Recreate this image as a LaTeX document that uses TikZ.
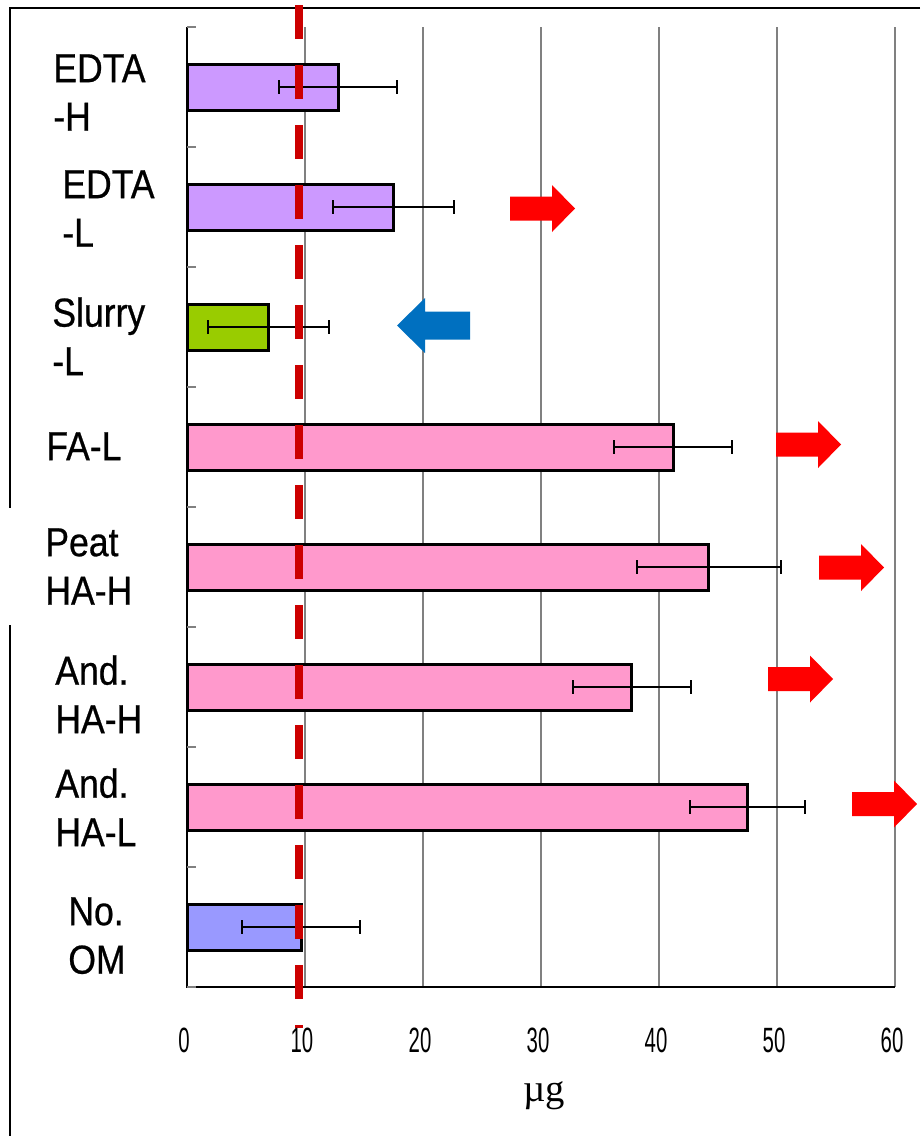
\documentclass[tikz,border=0pt]{standalone}
\usepackage{fontspec}
\setmainfont{Liberation Sans}
\newfontfamily\labfont[FakeStretch=0.88,FakeBold=0.6]{Liberation Sans}
\newfontfamily\tickfont[FakeStretch=0.58]{Liberation Sans}
\newfontfamily\unitfont{Liberation Serif}
\definecolor{edta}{HTML}{CC99FF}
\definecolor{slurry}{HTML}{99CC00}
\definecolor{ha}{HTML}{FF99CC}
\definecolor{om}{HTML}{9999FF}
\definecolor{limit}{HTML}{CC0000}
\definecolor{uparr}{HTML}{FF0000}
\definecolor{downarr}{HTML}{0070C0}
\tikzset{
  lab/.style={anchor=north west,align=left,inner sep=0pt,font=\labfont\fontsize{23}{27.6}\selectfont},
  ticklab/.style={inner sep=0pt,font=\tickfont\fontsize{20}{22}\selectfont},
}
\begin{document}
\begin{tikzpicture}[>=stealth,x=0.02cm,y=-0.02cm]
  \useasboundingbox (0,0) rectangle (920,1136);
  % khung ngoai
  \draw[line width=0.03cm] (920,8) -- (10,8) -- (10,508);
  \draw[line width=0.03cm] (10,625) -- (10,1136);
  % luoi doc va truc
  \foreach \k in {1,...,6}
    \draw[gray,line width=0.025cm] ({187+118*\k},27) -- ({187+118*\k},987);
  \draw[line width=0.025cm] (187,27) -- (187,987) -- (895,987);
  \foreach \k in {0,...,8}
    \draw[gray,line width=0.025cm] (187,{27+120*\k}) -- (196,{27+120*\k});
  % cot va sai so
  \foreach \c/\v/\e/\col in {87/12.8/5/edta,207/17.5/5.1/edta,327/6.9/5.1/slurry,447/41.2/5/ha,
                              567/44.2/6.1/ha,687/37.7/5/ha,807/47.5/4.9/ha,927/9.7/5/om}{
    \filldraw[fill=\col,line width=0.06cm] (187,{\c-23}) rectangle ({187+11.8*\v},{\c+23});
    \draw[line width=0.04cm] ({187+11.8*(\v-\e)},\c) -- ({187+11.8*(\v+\e)},\c)
      ({187+11.8*(\v-\e)},{\c-7}) -- ({187+11.8*(\v-\e)},{\c+7})
      ({187+11.8*(\v+\e)},{\c-7}) -- ({187+11.8*(\v+\e)},{\c+7});
  }
  % nguong 10
  \draw[limit,line width=0.16cm,dash pattern=on 0.68cm off 0.52cm] (299,5) -- (299,1028);
  % mui ten
  \foreach \x/\y in {510/208.5,776/444.5,819/567.5,768/679,852/804}
    \fill[uparr] (\x,{\y-12}) -- ({\x+42},{\y-12}) -- ({\x+42},{\y-23.5}) -- ({\x+65},\y)
      -- ({\x+42},{\y+23.5}) -- ({\x+42},{\y+12}) -- (\x,{\y+12}) -- cycle;
  \fill[downarr] (397,325.5) -- (425,298) -- (425,311.5) -- (470,311.5) -- (470,339.5)
    -- (425,339.5) -- (425,353) -- cycle;
  % nhan
  \node[lab] (edtah) at (53,54) {EDTA\\-H};
  \node[lab] (edtal) at (62,170) {EDTA\\-L};
  \node[lab] (slurryl) at (52,297) {Slurry\\-L};
  \node[lab] (fal) at (46,432) {FA-L};
  \node[lab] (peat) at (45,528) {Peat\\HA-H};
  \node[lab] (andh) at (55,655) {And.\\HA-H};
  \node[lab] (andl) at (55,768) {And.\\HA-L};
  \node[lab] (noom) at (68,897) {No.\\OM};
  \foreach \k/\t in {0/0,1/10,2/20,3/30,4/40,5/50,6/60}
    \node[ticklab] (t\k) at ({184+118*\k},1040) {\t};
  \node[font=\unitfont\fontsize{22}{24}\selectfont] (unit) at (544,1096) {µg};
\end{tikzpicture}
\end{document}
